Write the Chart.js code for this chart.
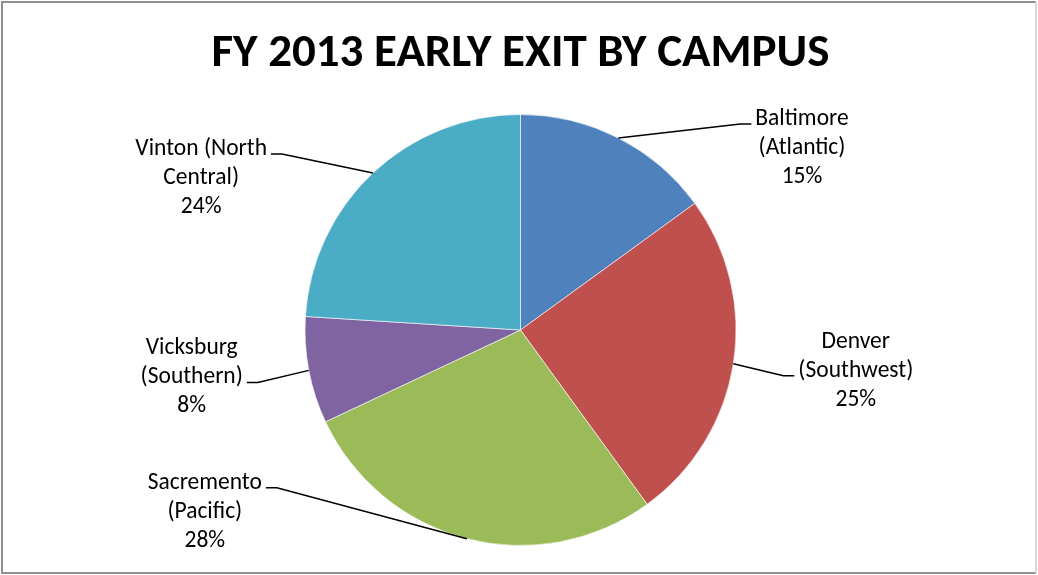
<!DOCTYPE html>
<html>
<head>
<meta charset="utf-8">
<script src="https://cdn.jsdelivr.net/npm/chart.js@4"></script>
<style>
  html, body { margin: 0; padding: 0; background: #fff; }
  canvas { display: block; }
</style>
</head>
<body>
<canvas id="chart" width="1038" height="575"></canvas>
<script>
const campuses = ['Baltimore', 'Denver', 'Sacremento', 'Vicksburg', 'Vinton'];
const regions = ['Atlantic', 'Southwest', 'Pacific', 'Southern', 'North Central'];
const exitShare = [15, 25, 28, 8, 24];
const sliceColors = ['#4F81BD', '#C0504D', '#9BBB59', '#8064A2', '#4BACC6'];

// how each data label wraps
const labelLines = [
  ['Baltimore', '(Atlantic)'],
  ['Denver', '(Southwest)'],
  ['Sacremento', '(Pacific)'],
  ['Vicksburg', '(Southern)'],
  ['Vinton (North', 'Central)']
];

// leader elbow offset from the slice edge, and which text row the leader meets
const leaders = [
  { dx: 122, dy: -14, row: 0 },
  { dx: 50, dy: 12, row: 1 },
  { dx: -190, dy: -51, row: 0 },
  { dx: -51, dy: 12, row: 1 },
  { dx: -91, dy: -19, row: 0 }
];

const labelFont = '23.5px Carlito, Calibri, Lato, sans-serif';
const rowHeight = 29;

const frame = {
  id: 'frame',
  beforeDraw(chart) {
    const ctx = chart.ctx;
    ctx.save();
    ctx.fillStyle = '#fff';
    ctx.fillRect(0, 0, chart.width, chart.height);
    ctx.lineWidth = 2;
    ctx.strokeStyle = '#8f8f8f';
    ctx.beginPath();
    ctx.moveTo(1036, 2); ctx.lineTo(2, 2); ctx.lineTo(2, 573); ctx.lineTo(1036, 573);
    ctx.stroke();
    ctx.strokeStyle = '#d9d9d9';
    ctx.beginPath();
    ctx.moveTo(1036, 2); ctx.lineTo(1036, 573);
    ctx.stroke();
    ctx.restore();
  }
};

const leaderLabels = {
  id: 'leaderLabels',
  afterDatasetsDraw(chart) {
    const ctx = chart.ctx;
    const meta = chart.getDatasetMeta(0);
    const values = chart.data.datasets[0].data;
    const total = values.reduce((a, b) => a + b, 0);
    ctx.save();
    ctx.font = labelFont;
    ctx.fillStyle = '#000';
    ctx.strokeStyle = '#000';
    ctx.lineWidth = 1.5;
    meta.data.forEach((arc, i) => {
      const p = arc.getProps(['x', 'y', 'startAngle', 'endAngle', 'outerRadius'], true);
      const mid = (p.startAngle + p.endAngle) / 2;
      const sx = p.x + Math.cos(mid) * p.outerRadius;
      const sy = p.y + Math.sin(mid) * p.outerRadius;
      const lead = leaders[i];
      const dir = lead.dx >= 0 ? 1 : -1;
      const ex = sx + lead.dx;
      const ey = sy + lead.dy;
      const hx = ex + dir * 11;
      ctx.beginPath();
      ctx.moveTo(sx, sy);
      ctx.lineTo(ex, ey);
      ctx.lineTo(hx, ey);
      ctx.stroke();

      const rows = labelLines[i].concat([Math.round(values[i] / total * 100) + '%']);
      const width = Math.max(...rows.map(r => ctx.measureText(r).width));
      const edge = hx + dir * 4;
      const cx = dir > 0 ? edge + width / 2 : edge - width / 2;
      const base0 = ey + 1 - lead.row * rowHeight;
      ctx.textAlign = 'center';
      ctx.textBaseline = 'alphabetic';
      rows.forEach((r, k) => ctx.fillText(r, cx, base0 + k * rowHeight));
    });
    ctx.restore();
  }
};

new Chart(document.getElementById('chart').getContext('2d'), {
  type: 'pie',
  data: {
    labels: campuses.map((c, i) => c + ' (' + regions[i] + ')'),
    datasets: [{
      data: exitShare,
      backgroundColor: sliceColors,
      borderColor: 'rgba(255,255,255,0.6)',
      borderWidth: 1
    }]
  },
  options: {
    responsive: false,
    animation: false,
    layout: { padding: { top: 0, bottom: 29, left: 3, right: 0 } },
    plugins: {
      legend: { display: false },
      tooltip: { enabled: false },
      title: {
        display: true,
        text: 'FY 2013 EARLY EXIT BY CAMPUS',
        color: '#000',
        font: { family: 'Carlito, Calibri, Lato, sans-serif', size: 47, weight: 'bold', lineHeight: 1.2 },
        padding: { top: 26.3, bottom: 31.3 }
      }
    }
  },
  plugins: [frame, leaderLabels]
});
</script>
</body>
</html>
